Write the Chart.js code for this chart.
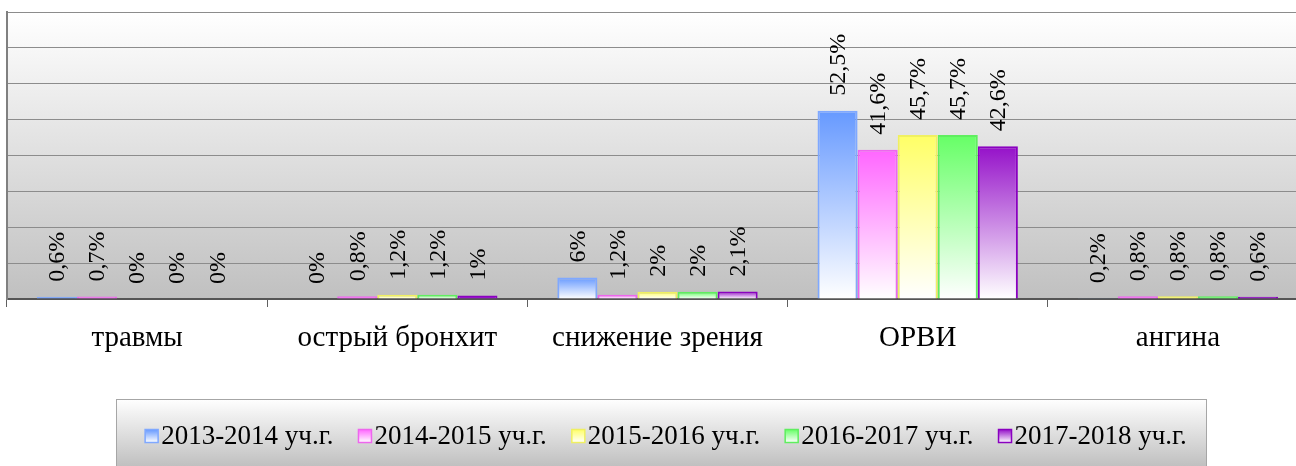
<!DOCTYPE html>
<html>
<head>
<meta charset="utf-8">
<script src="https://cdn.jsdelivr.net/npm/chart.js@4/dist/chart.umd.min.js"></script>
<style>
  html, body { margin: 0; padding: 0; background: #fff; overflow: hidden; }
  #chart { display: block; }
</style>
</head>
<body>
<canvas id="chart" width="1310" height="466"></canvas>
<script>
// categories and school years
const categories = ['травмы', 'острый бронхит', 'снижение зрения', 'ОРВИ', 'ангина'];
const years = ['2013-2014 уч.г.', '2014-2015 уч.г.', '2015-2016 уч.г.', '2016-2017 уч.г.', '2017-2018 уч.г.'];

// percentages per year (one value per category)
const values1314 = [0.6, 0, 6, 52.5, 0.2];
const values1415 = [0.7, 0.8, 1.2, 41.6, 0.8];
const values1516 = [0, 1.2, 2, 45.7, 0.8];
const values1617 = [0, 1.2, 2, 45.7, 0.8];
const values1718 = [0, 1, 2.1, 42.6, 0.6];

const series = [values1314, values1415, values1516, values1617, values1718];
const fillColors = ['#6699ff', '#ff66ff', '#ffff66', '#66ff66', '#9511c9'];
const edgeColors = ['#7fa8ff', '#ee66ee', '#f0f060', '#5fee5f', '#8a00c0'];

const FONT = '"Liberation Serif", "Times New Roman", serif';

const fmt = v => String(v).replace('.', ',') + '%';

function barGradient(color) {
  return (context) => {
    const chart = context.chart;
    if (!chart.chartArea || !chart.scales.y) return color;
    const y = chart.scales.y;
    const top = y.getPixelForValue(context.raw);
    const bottom = y.getPixelForValue(0);
    if (bottom - top < 4) return color;
    const g = chart.ctx.createLinearGradient(0, top, 0, bottom);
    g.addColorStop(0, color);
    g.addColorStop(1, '#ffffff');
    return g;
  };
}

// grey-to-white plot background
const plotBackground = {
  id: 'plotBackground',
  beforeDraw(chart) {
    const { ctx, chartArea: a } = chart;
    const g = ctx.createLinearGradient(0, a.top, 0, a.bottom);
    g.addColorStop(0, '#ffffff');
    g.addColorStop(1, '#c0c0c0');
    ctx.save();
    ctx.fillStyle = g;
    ctx.fillRect(a.left, a.top, a.right - a.left, a.bottom - a.top);
    ctx.restore();
  }
};

// rotated value labels above each bar
const valueLabels = {
  id: 'valueLabels',
  afterDatasetsDraw(chart) {
    const ctx = chart.ctx;
    ctx.save();
    ctx.font = '24px ' + FONT;
    ctx.fillStyle = '#000';
    ctx.textAlign = 'left';
    ctx.textBaseline = 'middle';
    chart.data.datasets.forEach((ds, i) => {
      chart.getDatasetMeta(i).data.forEach((bar, j) => {
        ctx.save();
        ctx.translate(bar.x + 1, bar.y - 15);
        ctx.rotate(-Math.PI / 2);
        ctx.fillText(fmt(ds.data[j]), 0, 0);
        ctx.restore();
      });
    });
    ctx.restore();
  }
};

// boxed legend at the bottom
const boxLegend = {
  id: 'boxLegend',
  afterDraw(chart) {
    const ctx = chart.ctx;
    const box = { x: 116, y: 399, w: 1090, h: 80 };
    ctx.save();
    const g = ctx.createLinearGradient(0, box.y, 0, box.y + 67);
    g.addColorStop(0, '#ffffff');
    g.addColorStop(1, '#c0c0c0');
    ctx.fillStyle = g;
    ctx.fillRect(box.x, box.y, box.w, box.h);
    ctx.strokeStyle = '#a6a6a6';
    ctx.lineWidth = 1;
    ctx.strokeRect(box.x + 0.5, box.y + 0.5, box.w, box.h);

    ctx.font = '27px ' + FONT;
    ctx.textBaseline = 'middle';
    ctx.textAlign = 'left';
    const marker = 13, markGap = 3, itemGap = 25;
    const widths = years.map(t => ctx.measureText(t).width);
    const total = widths.reduce((s, w) => s + marker + markGap + w, 0) + itemGap * (years.length - 1);
    let x = 666 - total / 2;
    const cy = 436;
    years.forEach((t, i) => {
      const mg = ctx.createLinearGradient(0, cy - marker / 2, 0, cy + marker / 2);
      mg.addColorStop(0, fillColors[i]);
      mg.addColorStop(1, '#ffffff');
      ctx.fillStyle = mg;
      ctx.fillRect(x, cy - marker / 2, marker, marker);
      ctx.strokeStyle = edgeColors[i];
      ctx.lineWidth = 1.5;
      ctx.strokeRect(x, cy - marker / 2, marker, marker);
      ctx.fillStyle = '#000';
      ctx.fillText(t, x + marker + markGap, cy + 1);
      x += marker + markGap + widths[i] + itemGap;
    });
    ctx.restore();
  }
};

new Chart(document.getElementById('chart'), {
  type: 'bar',
  data: {
    labels: categories,
    datasets: series.map((vals, i) => ({
      label: years[i],
      data: vals,
      backgroundColor: barGradient(fillColors[i]),
      borderColor: edgeColors[i],
      borderWidth: 2,
      categoryPercentage: 0.77,
      barPercentage: 1.0
    }))
  },
  options: {
    responsive: false,
    animation: false,
    layout: { padding: { left: 7, top: 12, right: 2, bottom: 0 } },
    scales: {
      x: {
        grid: {
          offset: true,
          drawOnChartArea: false,
          drawTicks: true,
          tickLength: 8,
          color: '#606060'
        },
        border: { color: '#555555', width: 2 },
        ticks: {
          font: { family: FONT, size: 29 },
          color: '#000',
          padding: 14,
          maxRotation: 0,
          autoSkip: false
        },
        afterFit(scale) { scale.height = 167; }
      },
      y: {
        min: 0,
        max: 80,
        ticks: { display: false, stepSize: 10 },
        grid: { color: '#8c8c8c', drawTicks: false, lineWidth: 1 },
        border: { color: '#808080', width: 2 }
      }
    },
    plugins: {
      legend: { display: false },
      tooltip: { enabled: false }
    }
  },
  plugins: [plotBackground, valueLabels, boxLegend]
});
</script>
</body>
</html>
